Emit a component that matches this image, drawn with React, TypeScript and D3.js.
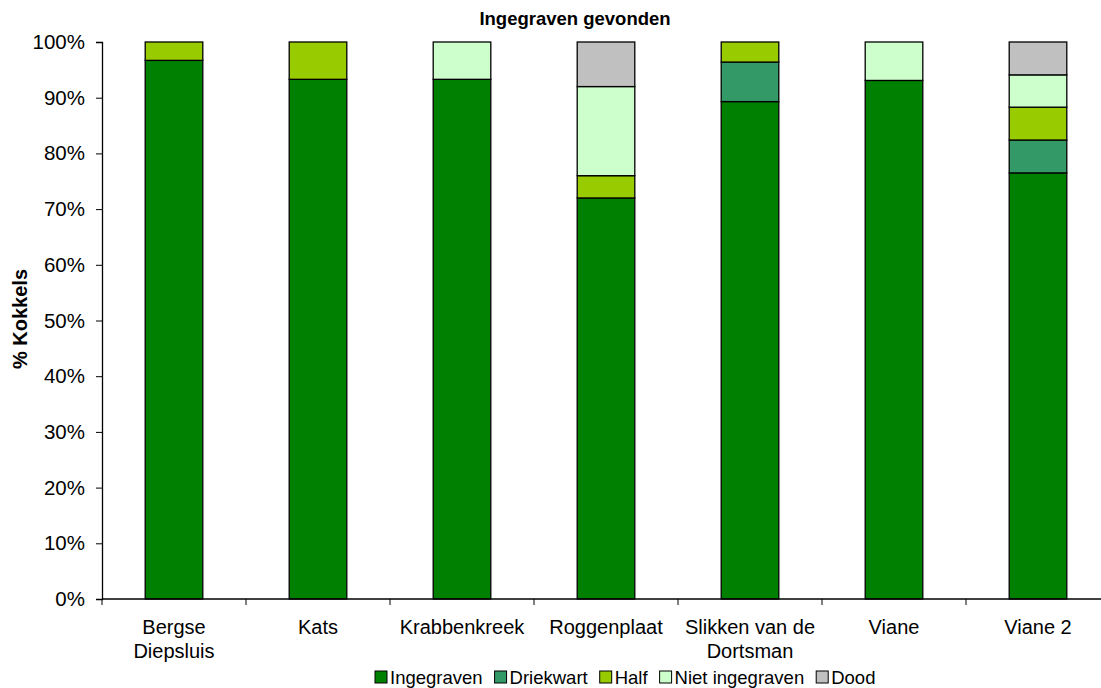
import React, { useEffect, useRef } from "react";
import * as d3 from "d3";

const categories = ["Bergse\nDiepsluis", "Kats", "Krabbenkreek", "Roggenplaat", "Slikken van de\nDortsman", "Viane", "Viane 2"];
const seriesNames = ["Ingegraven", "Driekwart", "Half", "Niet ingegraven", "Dood"];
const seriesColors = ["#008000", "#339966", "#99CC00", "#CCFFCC", "#C0C0C0"];
const ingegraven = [96.7, 93.3, 93.3, 72, 89.3, 93.1, 76.5];
const driekwart = [0, 0, 0, 0, 7.1, 0, 5.9];
const half = [3.3, 6.7, 0, 4, 3.6, 0, 5.9];
const nietIngegraven = [0, 0, 6.7, 16, 0, 6.9, 5.8];
const dood = [0, 0, 0, 8, 0, 0, 5.9];
const yTicks = [0, 10, 20, 30, 40, 50, 60, 70, 80, 90, 100];

const FONT = "Arial, 'Liberation Sans', Helvetica, sans-serif";

export default function App() {
  const ref = useRef<SVGSVGElement>(null);
  useEffect(() => {
    const svg = d3.select(ref.current!);
    svg.selectAll("*").remove();
    const left = 102, top = 42, bottom = 599, right = 1110;
    const x = d3.scaleBand().domain(categories).range([left, right]).paddingInner(0.6).paddingOuter(0.3);
    const y = d3.scaleLinear().domain([0, 100]).range([bottom, top]);
    const data = [ingegraven, driekwart, half, nietIngegraven, dood];

    svg.append("text").attr("x", 575).attr("y", 25).attr("text-anchor", "middle")
      .attr("font-family", FONT).attr("font-size", 18.5).attr("font-weight", "bold").text("Ingegraven gevonden");

    // bars
    categories.forEach((c, i) => {
      let acc = 0;
      data.forEach((s, k) => {
        const v = s[i];
        if (v <= 0) return;
        svg.append("rect")
          .attr("x", x(c)!).attr("width", x.bandwidth())
          .attr("y", y(acc + v)).attr("height", y(acc) - y(acc + v))
          .attr("fill", seriesColors[k]).attr("stroke", "#000").attr("stroke-width", 1.3);
        acc += v;
      });
    });

    // y axis
    const yAxis = svg.append("g").attr("transform", `translate(${left},0)`)
      .call(d3.axisLeft(y).tickValues(yTicks).tickSize(6).tickPadding(11).tickFormat((d) => `${d}%`));
    yAxis.select(".domain").attr("stroke", "#000").attr("stroke-width", 1.3);
    yAxis.selectAll("text").attr("font-family", FONT).attr("font-size", 20.5).attr("fill", "#000");

    // x axis
    const xTicks = d3.range(categories.length + 1).map((i) => left + i * ((right - left) / categories.length));
    svg.append("line").attr("x1", left).attr("x2", right).attr("y1", bottom).attr("y2", bottom)
      .attr("stroke", "#000").attr("stroke-width", 1.3);
    xTicks.forEach((t) => {
      svg.append("line").attr("x1", t).attr("x2", t).attr("y1", bottom).attr("y2", bottom + 6)
        .attr("stroke", "#000").attr("stroke-width", 1);
    });
    categories.forEach((c) => {
      const cx = x(c)! + x.bandwidth() / 2;
      const lines = c.split("\n");
      const t = svg.append("text").attr("text-anchor", "middle").attr("font-family", FONT).attr("font-size", 20);
      lines.forEach((l, j) => {
        t.append("tspan").attr("x", cx).attr("y", 634 + j * 24).text(l);
      });
    });

    // y title
    svg.append("text").attr("transform", "translate(27,319) rotate(-90)").attr("text-anchor", "middle")
      .attr("font-family", FONT).attr("font-size", 20).attr("font-weight", "bold").text("% Kokkels");

    // legend
    let lx = 375;
    const ly = 677;
    seriesNames.forEach((n, k) => {
      svg.append("rect").attr("x", lx).attr("y", ly - 6).attr("width", 12).attr("height", 12)
        .attr("fill", seriesColors[k]).attr("stroke", "#000").attr("stroke-width", 1);
      const t = svg.append("text").attr("x", lx + 15).attr("y", ly + 6.5)
        .attr("font-family", FONT).attr("font-size", 18.5).text(n);
      const w = (t.node() as SVGTextElement).getComputedTextLength();
      lx += 15 + w + 12;
    });
  }, []);
  return (
    <svg ref={ref} width={1101} height={688} style={{ position: "absolute", left: 0, top: 0, background: "#fff" }} />
  );
}
